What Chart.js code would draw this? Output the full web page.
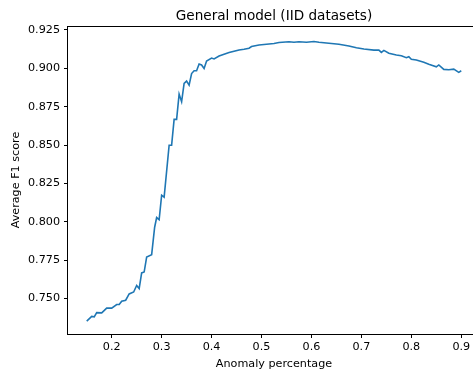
<!DOCTYPE html>
<html>
<head>
<meta charset="utf-8">
<script src="https://cdn.jsdelivr.net/npm/chart.js@4/dist/chart.umd.min.js"></script>
<style>
  html, body { margin: 0; padding: 0; overflow: hidden; background: #fff; }
  #chartBox { width: 482px; height: 369px; }
</style>
</head>
<body>
<div id="chartBox"><canvas id="f1Chart" width="482" height="369"></canvas></div>
<script>
//  Data
const anomalyPct = [0.150, 0.160, 0.165, 0.170, 0.180, 0.190, 0.200, 0.210, 0.215, 0.220,
                    0.228, 0.235, 0.244, 0.250, 0.255, 0.260, 0.265, 0.270, 0.280, 0.286,
                    0.290, 0.295, 0.300, 0.305, 0.315, 0.320, 0.325, 0.330, 0.335, 0.340,
                    0.345, 0.350, 0.355, 0.360, 0.365, 0.370, 0.375, 0.380, 0.385, 0.390,
                    0.400, 0.405, 0.415, 0.435, 0.455, 0.465, 0.475, 0.480, 0.495, 0.510,
                    0.525, 0.535, 0.555, 0.565, 0.575, 0.590, 0.605, 0.615, 0.635, 0.655,
                    0.675, 0.690, 0.705, 0.725, 0.735, 0.740, 0.745, 0.755, 0.770, 0.780,
                    0.790, 0.795, 0.800, 0.810, 0.825, 0.835, 0.850, 0.855, 0.865, 0.875,
                    0.885, 0.895, 0.900];
const avgF1 = [0.7352, 0.7383, 0.7380, 0.7407, 0.7406, 0.7437, 0.7437, 0.7460, 0.7460, 0.7482,
               0.7488, 0.7529, 0.7542, 0.7584, 0.7564, 0.7666, 0.7672, 0.7770, 0.7785, 0.7964,
               0.8027, 0.8013, 0.8173, 0.8160, 0.8499, 0.8499, 0.8667, 0.8667, 0.8832, 0.8782,
               0.8902, 0.8917, 0.8891, 0.8966, 0.8984, 0.8984, 0.9028, 0.9022, 0.8999, 0.9048,
               0.9067, 0.9061, 0.9080, 0.9103, 0.9119, 0.9124, 0.9131, 0.9142, 0.9152, 0.9157,
               0.9162, 0.9168, 0.9173, 0.9170, 0.9173, 0.9170, 0.9175, 0.9170, 0.9164, 0.9157,
               0.9146, 0.9134, 0.9126, 0.9119, 0.9119, 0.9104, 0.9117, 0.9098, 0.9087, 0.9082,
               0.9069, 0.9076, 0.9059, 0.9054, 0.9039, 0.9026, 0.9010, 0.9022, 0.8993, 0.8991,
               0.8995, 0.8974, 0.8984];
const xTicks = [0.2, 0.3, 0.4, 0.5, 0.6, 0.7, 0.8, 0.9];
const yTicks = [0.750, 0.775, 0.800, 0.825, 0.850, 0.875, 0.900, 0.925];

const chartTitle = 'General model (IID datasets)';
const fontName = '"DejaVu Sans", sans-serif';

let linePoints = anomalyPct.map((xv, i) => ({ x: xv, y: avgF1[i] }));

//******************************************************************************
//  Frame plugin: draws the four spines and the title over the plot area
//******************************************************************************
const frameAndTitle = {
  id: 'frameAndTitle',
  afterDraw(chart) {
    const { ctx, chartArea } = chart;
    ctx.save();
    ctx.strokeStyle = '#000';
    ctx.lineWidth = 1;
    ctx.strokeRect(Math.round(chartArea.left) - 0.5, Math.round(chartArea.top) + 0.5,
                   chartArea.right - chartArea.left, chartArea.bottom - chartArea.top);
    ctx.fillStyle = '#000';
    ctx.font = '13.6px ' + fontName;
    ctx.textAlign = 'center';
    ctx.textBaseline = 'middle';
    ctx.fillText(chartTitle, (chartArea.left + chartArea.right) / 2, 16);
    ctx.restore();
  }
};

let tickFont = { family: fontName, size: 11.2 };

let lineChart = new Chart(document.getElementById('f1Chart').getContext('2d'), {
  type: 'line',
  data: {
    datasets: [{
      data: linePoints,
      borderColor: '#1f77b4',
      borderWidth: 1.6,
      pointRadius: 0,
      tension: 0,
      fill: false
    }]
  },
  options: {
    responsive: false,
    animation: false,
    devicePixelRatio: 1,
    layout: { padding: { top: 26, right: 2, left: 0, bottom: 0 } },
    plugins: { legend: { display: false }, tooltip: { enabled: false } },
    scales: {
      x: {
        type: 'linear',
        min: 0.1125,
        max: 0.9375,
        afterBuildTicks: (scale) => { scale.ticks = xTicks.map(v => ({ value: v })); },
        afterFit: (scale) => { scale.height = 35; },
        ticks: { color: '#000', font: tickFont, padding: 2, maxRotation: 0,
                 callback: (v) => v.toFixed(1) },
        grid: { drawOnChartArea: false, tickLength: 4, color: '#000' },
        border: { display: false },
        title: { display: true, text: 'Anomaly percentage', color: '#000', font: tickFont,
                 padding: { top: 0, bottom: -1.5 } }
      },
      y: {
        type: 'linear',
        min: 0.7268,
        max: 0.9276,
        afterBuildTicks: (scale) => { scale.ticks = yTicks.map(v => ({ value: v })); },
        afterFit: (scale) => { scale.width = 68; },
        ticks: { color: '#000', font: tickFont, padding: 4,
                 callback: (v) => v.toFixed(3) },
        grid: { drawOnChartArea: false, tickLength: 4, color: '#000' },
        border: { display: false },
        title: { display: true, text: 'Average F1 score', color: '#000', font: tickFont,
                 padding: { top: 9, bottom: 0 } }
      }
    }
  },
  plugins: [frameAndTitle]
});
</script>
</body>
</html>
